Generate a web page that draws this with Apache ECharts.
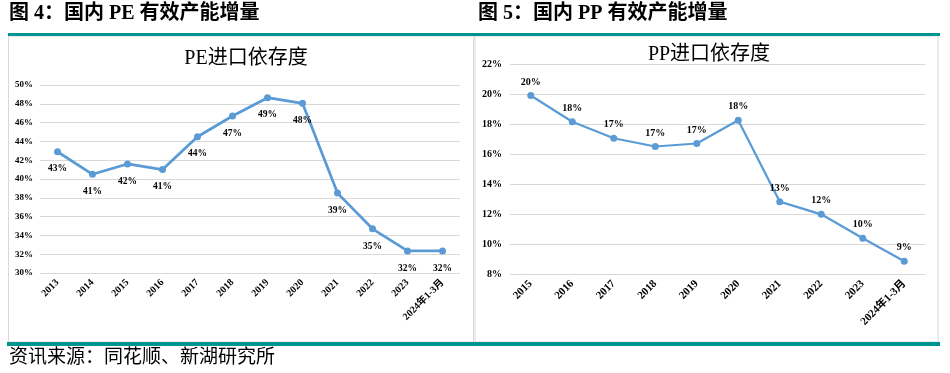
<!DOCTYPE html>
<html><head><meta charset="utf-8">
<script src="https://cdn.jsdelivr.net/npm/echarts@6/dist/echarts.min.js"></script>
<style>html,body{margin:0;padding:0;background:#fff}#c{width:950px;height:373px}</style>
</head><body><div id="c"></div>
<script>
const peCategories = ['2013','2014','2015','2016','2017','2018','2019','2020','2021','2022','2023','2024年1-3月'];
const peValues = [42.9, 40.5, 41.6, 41.0, 44.5, 46.7, 48.65, 48.05, 38.5, 34.7, 32.35, 32.35];
const peLabels = ['43%','41%','42%','41%','44%','47%','49%','48%','39%','35%','32%','32%'];
const ppCategories = ['2015','2016','2017','2018','2019','2020','2021','2022','2023','2024年1-3月'];
const ppValues = [19.9, 18.15, 17.05, 16.5, 16.7, 18.25, 12.82, 11.98, 10.38, 8.85];
const ppLabels = ['20%','18%','17%','17%','17%','18%','13%','12%','10%','9%'];

const serif = '"Liberation Serif","DejaVu Serif","Noto Sans CJK SC",serif';
const teal = '#009490';
const lineColor = '#5B9BD5';
const chart = echarts.init(document.getElementById('c'));
chart.setOption({
  animation: false,
  backgroundColor: '#fff',
  title: [
    {text: 'PE进口依存度', left: 241, top: 44, textAlign: 'center',
     textStyle: {fontFamily: serif, fontSize: 20, fontWeight: 'normal', color: '#000'}},
    {text: 'PP进口依存度', left: 704, top: 40, textAlign: 'center',
     textStyle: {fontFamily: serif, fontSize: 20, fontWeight: 'normal', color: '#000'}}
  ],
  graphic: [
    {type: 'text', left: 9, top: 4, style: {text: '图 4：国内 PE 有效产能增量', font: 'bold 20px ' + serif, fill: '#000'}},
    {type: 'text', left: 478, top: 4, style: {text: '图 5：国内 PP 有效产能增量', font: 'bold 20px ' + serif, fill: '#000'}},
    {type: 'rect', shape: {x: 8.5, y: 36, width: 465, height: 306}, style: {fill: 'none', stroke: '#d9d9d9', lineWidth: 1}},
    {type: 'rect', shape: {x: 475, y: 36, width: 463, height: 306}, style: {fill: 'none', stroke: '#d9d9d9', lineWidth: 1}},
    {type: 'rect', shape: {x: 8, y: 33, width: 932, height: 3}, style: {fill: teal}},
    {type: 'rect', shape: {x: 7, y: 342, width: 933, height: 4}, style: {fill: teal}},
    {type: 'text', left: 9, top: 349, style: {text: '资讯来源：同花顺、新湖研究所', font: '19px ' + serif, fill: '#000'}}
  ],
  grid: [
    {left: 40, right: 490, top: 85, bottom: 100},
    {left: 510, right: 25, top: 64, bottom: 99}
  ],
  xAxis: [
    {type: 'category', gridIndex: 0, data: peCategories, boundaryGap: true,
     axisLine: {show: false}, axisTick: {show: false},
     axisLabel: {rotate: 45, interval: 0, margin: 8, fontFamily: serif, fontWeight: 'bold', fontSize: 10, color: '#000'}},
    {type: 'category', gridIndex: 1, data: ppCategories, boundaryGap: true,
     axisLine: {show: false}, axisTick: {show: false},
     axisLabel: {rotate: 45, interval: 0, margin: 8, fontFamily: serif, fontWeight: 'bold', fontSize: 11, color: '#000'}}
  ],
  yAxis: [
    {type: 'value', gridIndex: 0, min: 30, max: 50, interval: 2,
     axisLine: {show: false}, axisTick: {show: false},
     splitLine: {lineStyle: {color: '#d9d9d9', width: 1}},
     axisLabel: {formatter: '{value}%', margin: 7, fontFamily: serif, fontWeight: 'bold', fontSize: 9, color: '#000'}},
    {type: 'value', gridIndex: 1, min: 8, max: 22, interval: 2,
     axisLine: {show: false}, axisTick: {show: false},
     splitLine: {lineStyle: {color: '#d9d9d9', width: 1}},
     axisLabel: {formatter: '{value}%', margin: 8, fontFamily: serif, fontWeight: 'bold', fontSize: 10, color: '#000'}}
  ],
  series: [
    {type: 'line', xAxisIndex: 0, yAxisIndex: 0, data: peValues,
     symbol: 'circle', symbolSize: 7,
     lineStyle: {color: lineColor, width: 2.75}, itemStyle: {color: lineColor},
     label: {show: true, position: 'bottom', distance: 9,
       formatter: p => peLabels[p.dataIndex],
       fontFamily: serif, fontWeight: 'bold', fontSize: 9.5, color: '#000'}},
    {type: 'line', xAxisIndex: 1, yAxisIndex: 1, data: ppValues,
     symbol: 'circle', symbolSize: 7,
     lineStyle: {color: lineColor, width: 2.25}, itemStyle: {color: lineColor},
     label: {show: true, position: 'top', distance: 5,
       formatter: p => ppLabels[p.dataIndex],
       fontFamily: serif, fontWeight: 'bold', fontSize: 10, color: '#000'}}
  ]
});
</script></body></html>
